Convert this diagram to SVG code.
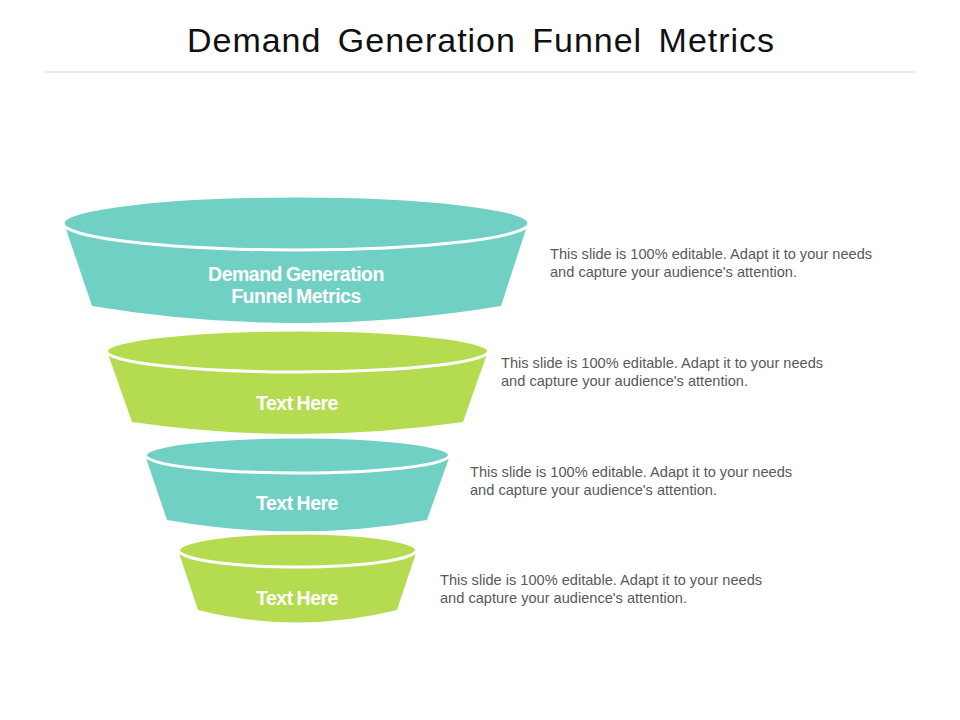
<svg xmlns="http://www.w3.org/2000/svg" width="960" height="720" viewBox="0 0 960 720">
<style>
.title{font-family:"Liberation Sans",Arial,sans-serif;font-size:34px;fill:#111;word-spacing:6px;}
.desc{font-family:"Liberation Sans",Arial,sans-serif;font-size:14.6px;fill:#595959;}
.lbl{font-family:"Liberation Sans",Arial,sans-serif;font-size:19.5px;font-weight:bold;fill:#fff;text-anchor:middle;letter-spacing:-0.5px;word-spacing:-1px;}
.teal{fill:#71D0C4;}
.green{fill:#B5DB50;}
.cap{stroke:#fff;stroke-width:3;}
</style>
<rect width="960" height="720" fill="#fff"/>
<text class="title" x="187" y="52" textLength="587" lengthAdjust="spacing">Demand Generation Funnel Metrics</text>
<line x1="44" y1="72" x2="916" y2="72" stroke="#d9d9d9" stroke-width="1"/>

<g id="stage1">
<path class="teal" d="M65,226 L92,306 Q296,340 501,306 L527,226 Z"/>
<ellipse class="teal cap" cx="296" cy="223" rx="233" ry="27"/>
<text class="lbl" x="296" y="281">Demand Generation</text>
<text class="lbl" x="296" y="303">Funnel Metrics</text>
</g>
<g id="stage2">
<path class="green" d="M108,354 L132,422 Q297,446 463,422 L487,354 Z"/>
<ellipse class="green cap" cx="297.5" cy="351" rx="191" ry="21"/>
<text class="lbl" x="297" y="410">Text Here</text>
</g>
<g id="stage3">
<path class="teal" d="M146,458 L167,520 Q297,543 427,520 L449,458 Z"/>
<ellipse class="teal cap" cx="297.5" cy="455" rx="152" ry="18"/>
<text class="lbl" x="297" y="510">Text Here</text>
</g>
<g id="stage4">
<path class="green" d="M179,553 L198,610 Q297,635 397,610 L416,553 Z"/>
<ellipse class="green cap" cx="297.5" cy="550" rx="119" ry="17"/>
<text class="lbl" x="297" y="605">Text Here</text>
</g>

<g id="desc1">
<text class="desc" x="550" y="259">This slide is 100% editable. Adapt it to your needs</text>
<text class="desc" x="550" y="277">and capture your audience's attention.</text>
</g>
<g id="desc2">
<text class="desc" x="501" y="368">This slide is 100% editable. Adapt it to your needs</text>
<text class="desc" x="501" y="386">and capture your audience's attention.</text>
</g>
<g id="desc3">
<text class="desc" x="470" y="477">This slide is 100% editable. Adapt it to your needs</text>
<text class="desc" x="470" y="495">and capture your audience's attention.</text>
</g>
<g id="desc4">
<text class="desc" x="440" y="585">This slide is 100% editable. Adapt it to your needs</text>
<text class="desc" x="440" y="603">and capture your audience's attention.</text>
</g>
</svg>
